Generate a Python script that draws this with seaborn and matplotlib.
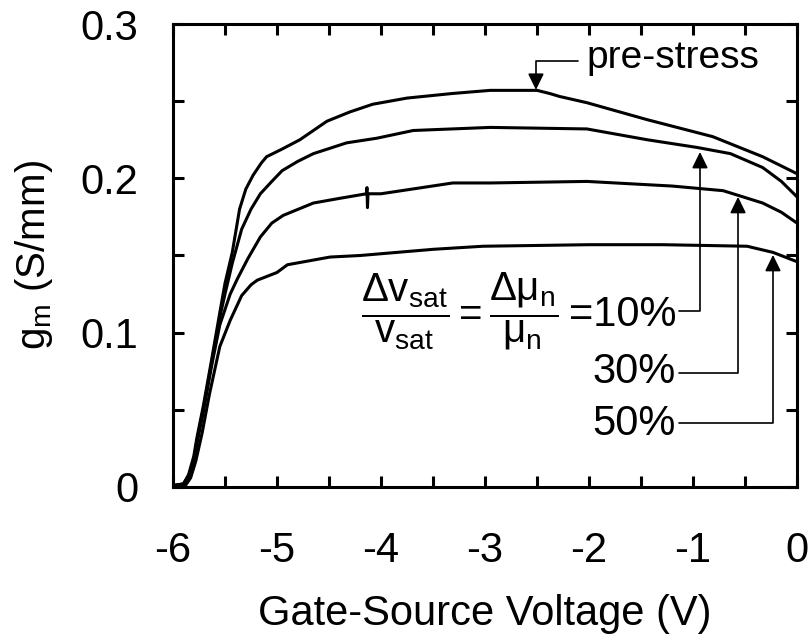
import matplotlib
matplotlib.use("Agg")
import matplotlib.pyplot as plt
from matplotlib.ticker import MultipleLocator
import pandas as pd
import seaborn as sns

# gm vs Vgs curves
x_pre = [-6.0, -5.9, -5.85, -5.8, -5.77, -5.71, -5.63, -5.55, -5.5, -5.43, -5.36, -5.3,
         -5.23, -5.15, -5.10, -4.95, -4.78, -4.65, -4.52, -4.3, -4.08, -3.75, -3.31, -2.95,
         -2.5, -2.38, -2.28, -2.02, -1.44, -0.81, -0.33, 0.0]
y_pre = [0.001, 0.002, 0.008, 0.02, 0.032, 0.052, 0.082, 0.113, 0.132, 0.152, 0.18, 0.193,
         0.202, 0.210, 0.214, 0.219, 0.225, 0.231, 0.237, 0.243, 0.248, 0.252, 0.255, 0.257,
         0.257, 0.255, 0.253, 0.249, 0.238, 0.227, 0.214, 0.203]

x_10 = [-6.0, -5.9, -5.85, -5.8, -5.77, -5.71, -5.63, -5.55, -5.5, -5.43, -5.34, -5.25,
        -5.16, -5.05, -4.95, -4.8, -4.65, -4.33, -4.04, -3.69, -2.95, -2.02, -1.44, -0.96,
        -0.64, -0.33, -0.15, 0.0]
y_10 = [0.001, 0.002, 0.007, 0.018, 0.03, 0.05, 0.08, 0.11, 0.125, 0.145, 0.167, 0.18,
        0.19, 0.198, 0.205, 0.211, 0.216, 0.223, 0.226, 0.231, 0.233, 0.232, 0.225, 0.22,
        0.216, 0.207, 0.198, 0.188]

x_30 = [-6.0, -5.9, -5.85, -5.8, -5.77, -5.71, -5.63, -5.55, -5.45, -5.38, -5.28, -5.16,
        -5.05, -4.94, -4.65, -4.4, -4.14, -4.135, -4.13, -4.125, -4.0, -3.31, -2.95, -2.02,
        -1.2, -0.71, -0.33, -0.15, 0.0]
y_30 = [0.0, 0.001, 0.006, 0.017, 0.028, 0.048, 0.078, 0.105, 0.125, 0.135, 0.148, 0.162,
        0.171, 0.176, 0.184, 0.187, 0.19, 0.194, 0.181, 0.19, 0.19, 0.197, 0.197, 0.198,
        0.195, 0.192, 0.184, 0.178, 0.171]

x_50 = [-6.0, -5.88, -5.83, -5.78, -5.72, -5.65, -5.55, -5.45, -5.34, -5.25, -5.19, -5.0,
        -4.9, -4.49, -4.2, -3.5, -3.02, -2.0, -1.29, -0.48, -0.23, 0.0]
y_50 = [0.0, 0.001, 0.006, 0.017, 0.035, 0.06, 0.091, 0.108, 0.124, 0.131, 0.134, 0.139,
        0.144, 0.149, 0.15, 0.154, 0.156, 0.157, 0.157, 0.156, 0.152, 0.146]

x_ticks = [-6, -5, -4, -3, -2, -1, 0]
x_ticklabels = ["-6", "-5", "-4", "-3", "-2", "-1", "0"]
y_ticks = [0, 0.1, 0.2, 0.3]
y_ticklabels = ["0", "0.1", "0.2", "0.3"]

sns.set_style("ticks")
plt.rcParams["font.family"] = ["Liberation Sans", "DejaVu Sans"]
plt.rcParams["mathtext.fontset"] = "custom"
plt.rcParams["mathtext.rm"] = "Liberation Sans"
plt.rcParams["mathtext.it"] = "Liberation Sans:italic"
plt.rcParams["mathtext.sf"] = "Liberation Sans"
plt.rcParams["axes.unicode_minus"] = False
for k in ["text.color", "axes.labelcolor", "xtick.color", "ytick.color", "axes.edgecolor"]:
    plt.rcParams[k] = "black"

fig = plt.figure(figsize=(8.11, 6.40), dpi=100)
ax = fig.add_axes([173 / 811, 1 - 487 / 640, 624 / 811, 463 / 640])

for xs, ys in [(x_pre, y_pre), (x_10, y_10), (x_30, y_30), (x_50, y_50)]:
    df = pd.DataFrame({"x": xs, "y": ys})
    sns.lineplot(data=df, x="x", y="y", ax=ax, color="black", lw=2.2,
                 estimator=None, sort=False)

ax.set_xlim(-6, 0)
ax.set_ylim(0, 0.3)
ax.set_xticks(x_ticks)
ax.set_xticklabels(x_ticklabels)
ax.set_yticks(y_ticks)
ax.set_yticklabels(y_ticklabels)
ax.xaxis.set_minor_locator(MultipleLocator(0.5))
ax.yaxis.set_minor_locator(MultipleLocator(0.05))
ax.tick_params(which="both", direction="in", length=8, width=2.2,
               top=True, right=True, labelsize=30, color="black")
ax.tick_params(axis="x", which="major", pad=32)
ax.tick_params(axis="y", which="major", pad=25)
for s in ax.spines.values():
    s.set_linewidth(2.2)
    s.set_color("black")

ax.set_xlabel("Gate-Source Voltage (V)", fontsize=30, labelpad=16)
ax.set_ylabel(r"g$_\mathrm{m}$ (S/mm)", fontsize=29, labelpad=18)

# annotations
arrow = dict(arrowstyle="-|>,head_length=0.45,head_width=0.22", color="black", lw=1.2,
             shrinkA=0, shrinkB=0, mutation_scale=22,
             connectionstyle="angle,angleA=0,angleB=90,rad=0")
ax.text(-2.02, 0.2716, "pre-stress", fontsize=28, ha="left", va="baseline")
ax.annotate("", xy=(-2.51, 0.2573), xytext=(-2.106, 0.2761), arrowprops=arrow)

ax.text(-4.19, 0.1141,
        r"$\dfrac{\Delta\mathrm{v}_\mathrm{sat}}{\mathrm{v}_\mathrm{sat}}=\dfrac{\Delta\mathrm{μ}_\mathrm{n}}{\mathrm{μ}_\mathrm{n}}$",
        fontsize=29, ha="left", va="center")
ax.text(-1.163, 0.1043, "=10%", fontsize=30, ha="right", va="baseline")
ax.text(-1.163, 0.0674, "30%", fontsize=30, ha="right", va="baseline")
ax.text(-1.163, 0.0337, "50%", fontsize=30, ha="right", va="baseline")
ax.annotate("", xy=(-0.933, 0.2171), xytext=(-1.135, 0.1141), arrowprops=arrow)
ax.annotate("", xy=(-0.567, 0.188), xytext=(-1.135, 0.0739), arrowprops=arrow)
ax.annotate("", xy=(-0.231, 0.1504), xytext=(-1.135, 0.0415), arrowprops=arrow)

fig.savefig("out.png", dpi=100)
